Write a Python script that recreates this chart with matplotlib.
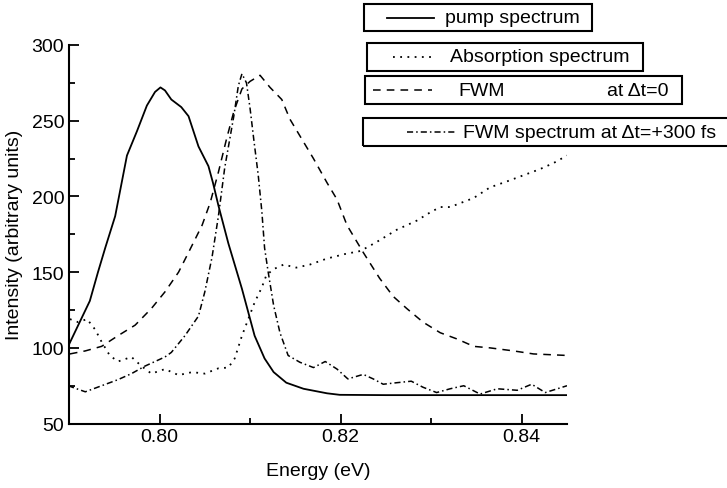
import matplotlib
matplotlib.use('Agg')
import matplotlib.pyplot as plt
from matplotlib.lines import Line2D
from matplotlib.patches import Rectangle
from matplotlib.ticker import MultipleLocator, FormatStrFormatter

plt.rcParams['font.family'] = ['Liberation Sans', 'DejaVu Sans']
plt.rcParams['font.size'] = 14

# pump spectrum (solid)
pump_x = [0.7899, 0.7923, 0.7932, 0.7940, 0.7951, 0.7964, 0.7975, 0.7986, 0.7995,
          0.8001, 0.8006, 0.8013, 0.8024, 0.8032, 0.8043, 0.8054, 0.8059, 0.8065,
          0.8076, 0.8091, 0.8105, 0.8116, 0.8126, 0.8140, 0.8159, 0.8185, 0.8199,
          0.8250, 0.8350, 0.8450]
pump_y = [101, 131, 150, 166, 187, 227, 243, 260, 269,
          272, 270, 264, 259, 253, 233, 220, 209, 194,
          169, 139, 108, 93, 84, 77, 73, 70, 69,
          68.8, 68.8, 68.8]

# absorption spectrum (dotted)
abs_x = [0.7901, 0.7910, 0.7920, 0.7929, 0.7936, 0.7945, 0.7954, 0.7969, 0.7980,
         0.7991, 0.8006, 0.8021, 0.8036, 0.8050, 0.8065, 0.8076, 0.8083, 0.8091,
         0.8098, 0.8105, 0.8113, 0.8118, 0.8126, 0.8137, 0.8151, 0.8166, 0.8185,
         0.8205, 0.8222, 0.8240, 0.8262, 0.8284, 0.8299, 0.8310, 0.8321, 0.8334,
         0.8347, 0.8365, 0.8384, 0.8402, 0.8420, 0.8435, 0.8450]
abs_y = [119, 117, 119, 112, 104, 95, 91, 94, 88,
         83, 86, 82, 84, 83, 86.5, 87, 93, 108,
         119, 130, 140, 148, 152, 155, 153, 155, 159,
         162, 164, 170, 178, 184, 189.5, 193, 193, 196,
         199, 206, 210, 214, 218, 222, 227]

# FWM at dt=0 (dashed)
fwm0_x = [0.7901, 0.7918, 0.7936, 0.7954, 0.7973, 0.7991, 0.8006, 0.8021, 0.8032,
          0.8047, 0.8056, 0.8065, 0.8074, 0.8082, 0.8091, 0.8100, 0.8111, 0.8122,
          0.8135, 0.8144, 0.8155, 0.8170, 0.8185, 0.8196, 0.8207, 0.8225, 0.8243,
          0.8258, 0.8273, 0.8291, 0.8310, 0.8328, 0.8347, 0.8365, 0.8391, 0.8413,
          0.8450]
fwm0_y = [96, 98, 101, 108, 115, 126, 137, 150, 163,
          181, 196, 216, 238, 256, 271, 276, 280, 272,
          264, 251, 240, 225, 209, 198, 181, 163, 146,
          134, 126, 117, 110, 106, 101, 100, 98, 96,
          95]

# FWM at dt=+300 fs (dash-dot)
fwm300_x = [0.7899, 0.7918, 0.7936, 0.7954, 0.7969, 0.7984, 0.8006, 0.8013, 0.8028,
            0.8043, 0.8050, 0.8058, 0.8065, 0.8072, 0.8082, 0.8087, 0.8091, 0.8096,
            0.8100, 0.8104, 0.8109, 0.8113, 0.8116, 0.8120, 0.8126, 0.8133, 0.8142,
            0.8155, 0.8170, 0.8183, 0.8196, 0.8208, 0.8225, 0.8236, 0.8247, 0.8262,
            0.8278, 0.8291, 0.8306, 0.8321, 0.8336, 0.8354, 0.8373, 0.8395, 0.8411,
            0.8426, 0.8450]
fwm300_y = [75, 71, 75, 79, 83, 88, 94, 97, 108,
            121, 137, 160, 187, 219, 253, 273, 281, 275,
            258, 238, 214, 190, 166, 150, 128, 110, 95,
            90.5, 87, 91, 86, 79.5, 82.5, 79.5, 76, 77,
            78, 74, 70.5, 73, 75, 69.5, 73, 72, 76,
            70.5, 75]

W, H = 727, 489
fig = plt.figure(figsize=(W / 100, H / 100), dpi=100)


def px(x, y):
    return x / W, 1 - y / H


l, t = px(69, 46)
r, b = px(567, 424.6)
ax = fig.add_axes([l, b, r - l, t - b])

solid = dict(color='black', lw=1.3, linestyle='-')
dotted = dict(color='black', lw=1.3, dashes=(1, 3))
dashed = dict(color='black', lw=1.1, dashes=(5, 4))
dashdot = dict(color='black', lw=1.1, dashes=(4, 2, 1, 2))

ax.plot(pump_x, pump_y, **solid)
ax.plot(abs_x, abs_y, **dotted)
ax.plot(fwm0_x, fwm0_y, **dashed)
ax.plot(fwm300_x, fwm300_y, **dashdot)

ax.set_xlim(0.79, 0.845)
ax.set_ylim(50, 300)
ax.xaxis.set_major_locator(MultipleLocator(0.02))
ax.xaxis.set_minor_locator(MultipleLocator(0.01))
ax.xaxis.set_major_formatter(FormatStrFormatter('%.2f'))
ax.yaxis.set_major_locator(MultipleLocator(50))
ax.yaxis.set_minor_locator(MultipleLocator(25))
ax.tick_params(which='both', direction='in', width=1.3, labelsize=14)
ax.tick_params(which='major', length=7)
ax.tick_params(which='minor', length=4)
for s in ['top', 'right']:
    ax.spines[s].set_visible(False)
for s in ['left', 'bottom']:
    ax.spines[s].set_linewidth(1.5)
ax.set_xlabel('Energy (eV)', fontsize=14, labelpad=12)
ax.set_ylabel('Intensity (arbitrary units)', fontsize=14, labelpad=6)

# stacked legend boxes
boxes = [
    ((364, 5, 592, 32), (387, 434), solid, [('pump spectrum', 445)]),
    ((367, 44, 643, 72), (393, 436), dotted, [('Absorption spectrum', 450)]),
    ((365, 77, 682, 105), (373, 432), dashed, [('FWM', 458), ('at \u0394t=0', 607)]),
    ((363, 119, 740, 147), (407, 455), dashdot, [('FWM spectrum at \u0394t=+300 fs', 463)]),
]
for (x0, y0, x1, y1), (sx0, sx1), style, texts in boxes:
    fx0, fy1 = px(x0, y0)
    fx1, fy0 = px(x1, y1)
    fig.add_artist(Rectangle((fx0, fy0), fx1 - fx0, fy1 - fy0, transform=fig.transFigure,
                             fill=False, edgecolor='black', lw=1.5))
    ym = (y0 + y1) / 2
    a, yy = px(sx0, ym)
    c, _ = px(sx1, ym)
    fig.add_artist(Line2D([a, c], [yy, yy], transform=fig.transFigure, **style))
    for txt, tx in texts:
        fx, fy = px(tx, ym)
        fig.text(fx, fy, txt, fontsize=14, va='center', ha='left')

fig.savefig('out.png', dpi=100)
